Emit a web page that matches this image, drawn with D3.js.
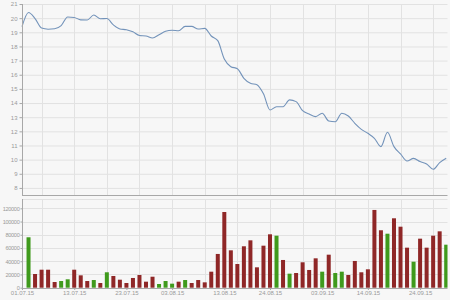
<!DOCTYPE html>
<html><head><meta charset="utf-8">
<script src="https://cdn.jsdelivr.net/npm/d3@7"></script>
<style>
html,body{margin:0;padding:0;background:#f7f7f7;}
svg{display:block;}
text{font-family:"Liberation Sans",Arial,sans-serif;fill:#9a9a9a;}
</style></head><body>
<svg id="c" width="450" height="300"></svg>
<script>
const dates = [
"01.07.15","02.07.15","03.07.15","06.07.15","07.07.15","08.07.15","09.07.15","10.07.15",
"13.07.15","14.07.15","15.07.15","16.07.15","17.07.15","20.07.15","21.07.15","22.07.15",
"23.07.15","24.07.15","27.07.15","28.07.15","29.07.15","30.07.15","31.07.15",
"03.08.15","04.08.15","05.08.15","06.08.15","07.08.15","10.08.15","11.08.15","12.08.15",
"13.08.15","14.08.15","17.08.15","18.08.15","19.08.15","20.08.15","21.08.15","24.08.15",
"25.08.15","26.08.15","27.08.15","28.08.15","31.08.15",
"01.09.15","02.09.15","03.09.15","04.09.15","07.09.15","08.09.15","09.09.15","10.09.15",
"11.09.15","14.09.15","15.09.15","16.09.15","17.09.15","18.09.15","21.09.15","22.09.15",
"23.09.15","24.09.15","25.09.15","28.09.15","29.09.15","30.09.15"];

const prices = [19.40,20.40,19.97,19.30,19.22,19.25,19.47,20.08,20.05,19.88,19.87,20.22,19.96,19.97,19.52,19.23,
19.18,19.03,18.77,18.74,18.60,18.83,19.07,19.14,19.11,19.42,19.42,19.23,19.28,18.74,18.41,17.11,
16.57,16.43,15.75,15.40,15.30,14.65,13.51,13.74,13.74,14.22,14.10,13.46,13.23,13.04,13.28,12.73,
12.68,13.28,13.08,12.57,12.14,11.86,11.51,10.92,11.93,10.92,10.40,9.90,10.09,9.86,9.69,9.32,9.79,10.10];

const volumes = [null,76200,20700,27200,27200,8600,10100,12700,27200,18700,10100,11600,7100,23300,17700,12100,
7100,14700,19200,9100,16600,5600,10100,6100,9100,11600,7100,11600,8100,24200,51000,114400,
56500,35800,62600,71600,30800,63500,80700,78600,41900,21200,22200,38400,26800,44400,24200,49900,
22200,24200,19200,40400,23300,27800,117500,86800,81600,104900,92200,60500,39300,74100,60500,78600,85200,65000];

// u = up day (green), d = down day (red)
const direction = "-udddduudddududdddddduuududddddddddddddududdddudu" + "uddddddudddudddduu";

const xLabels = ["01.07.15","13.07.15","23.07.15","03.08.15","13.08.15","24.08.15","03.09.15","14.09.15","24.09.15"];
const priceTicks = [8,9,10,11,12,13,14,15,16,17,18,19,20,21];
const volumeTicks = [0,20000,40000,60000,80000,100000,120000];

const svg = d3.select("#c");
const L = 22, R = 447.5;
const x = d3.scaleLinear().domain([0, 65.2]).range([L, R]);
const yP = d3.scaleLinear().domain([7.5, 21]).range([195, 4]);
const yV = d3.scaleLinear().domain([0, 120000]).range([287.7, 208.3]);
const vTop = 199;

const parse = d3.timeParse("%d.%m.%y");
const mondays = dates.map((d,i)=>({d:parse(d),i})).filter(o=>o.d.getDay()===1).map(o=>o.i);

const grid = "#e2e2e2";
const gTop = svg.append("g");
gTop.selectAll("line.h").data(priceTicks).join("line")
  .attr("x1",L).attr("x2",R).attr("y1",d=>yP(d)+0.5).attr("y2",d=>yP(d)+0.5)
  .attr("stroke",grid);
gTop.selectAll("line.v").data(mondays).join("line")
  .attr("x1",d=>Math.round(x(d))+0.5).attr("x2",d=>Math.round(x(d))+0.5).attr("y1",yP(21)).attr("y2",195)
  .attr("stroke",grid);
const gBot = svg.append("g");
gBot.selectAll("line.h").data(volumeTicks.slice(1)).join("line")
  .attr("x1",L).attr("x2",R).attr("y1",d=>Math.round(yV(d))+0.5).attr("y2",d=>Math.round(yV(d))+0.5)
  .attr("stroke",grid);
gBot.append("line").attr("x1",L).attr("x2",R).attr("y1",vTop+0.5).attr("y2",vTop+0.5).attr("stroke",grid);
gBot.selectAll("line.v").data(mondays).join("line")
  .attr("x1",d=>Math.round(x(d))+0.5).attr("x2",d=>Math.round(x(d))+0.5).attr("y1",vTop).attr("y2",288)
  .attr("stroke",grid);

svg.append("clipPath").attr("id","clipB").append("rect").attr("x",L).attr("y",vTop).attr("width",R-L).attr("height",288-vTop);

const bw = 4;
svg.append("g").attr("clip-path","url(#clipB)")
  .selectAll("rect").data(volumes.map((v,i)=>({v,i})).filter(o=>o.v!=null)).join("rect")
  .attr("x",d=>x(d.i)-bw/2).attr("width",bw)
  .attr("y",d=>yV(d.v)).attr("height",d=>yV(0)-yV(d.v))
  .attr("fill",d=>direction[d.i]==="u" ? "#3f9a1c" : "#8f2727");

svg.append("path").datum(prices)
  .attr("fill","none").attr("stroke","#7393ba").attr("stroke-width",1.1)
  .attr("d", d3.line().x((d,i)=>x(i)).y(d=>yP(d)).curve(d3.curveMonotoneX));

const axCol = "#a8a8a8";
const axTop = svg.append("g").attr("transform",`translate(${L+0.5},0)`)
  .call(d3.axisLeft(yP).tickValues(priceTicks).tickSize(3).tickPadding(2));
axTop.select(".domain").attr("d",`M0,${yP(21)}V195`);
const axBotY = svg.append("g").attr("transform",`translate(${L+0.5},0)`)
  .call(d3.axisLeft(yV).tickValues(volumeTicks).tickSize(2).tickPadding(1).tickFormat(d3.format("d")));
axBotY.select(".domain").attr("d",`M0,${vTop}V288`);
const axX = svg.append("g").attr("transform",`translate(0,288)`)
  .call(d3.axisBottom(x).tickValues(xLabels.map(l=>dates.indexOf(l))).tickFormat(i=>dates[i]).tickSize(2).tickPadding(1));
axX.select(".domain").attr("d",`M${L},0.5H${R}`);
[axTop,axBotY,axX].forEach(a=>{
  a.selectAll(".domain").attr("stroke",axCol);
  a.selectAll(".tick line").attr("stroke",axCol);
  a.selectAll("text").attr("fill","#9a9a9a").style("font-size","6px").style("font-family","Liberation Sans, Arial, sans-serif");
});
axBotY.selectAll("text").style("font-size","5.6px").style("letter-spacing","-0.3px");
svg.append("line").attr("x1",L).attr("x2",R).attr("y1",195.5).attr("y2",195.5).attr("stroke",axCol);
</script>
</body></html>
